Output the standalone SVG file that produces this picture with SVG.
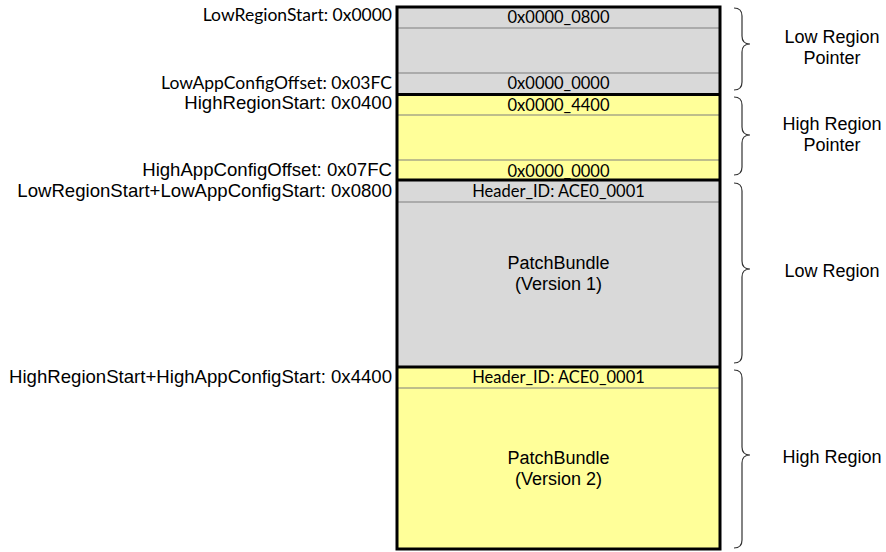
<svg xmlns="http://www.w3.org/2000/svg" width="886" height="552" viewBox="0 0 886 552">
<style>
.gray{fill:#d9d9d9}
.yel{fill:#ffff99}
.thin{stroke:#7f7f7f;stroke-width:1.2;fill:none}
.thick{stroke:#000;stroke-width:3;fill:none}
.cal{font-family:Lato,"Liberation Sans",sans-serif;font-size:16.5px;fill:#000}
.ar{font-family:"Liberation Sans",Arial,sans-serif;font-size:18px;fill:#000}
.lbl{font-size:17.5px}
.lbla{font-size:18.6px}
.mid{text-anchor:middle}
.end{text-anchor:end}
.brace{stroke:#333;stroke-width:1.2;fill:none}
</style>
<rect width="886" height="552" fill="#fff"/>

<g id="low-region-pointer">
<rect class="gray" x="397" y="7" width="323" height="87.5"/>
<line class="thin" x1="397" y1="28" x2="720" y2="28"/>
<line class="thin" x1="397" y1="73" x2="720" y2="73"/>
<text class="cal mid" x="558.5" y="23">0x0000_0800</text>
<text class="cal mid" x="558.5" y="89">0x0000_0000</text>
</g>

<g id="high-region-pointer">
<rect class="yel" x="397" y="94.5" width="323" height="85.5"/>
<line class="thin" x1="397" y1="115" x2="720" y2="115"/>
<line class="thin" x1="397" y1="160" x2="720" y2="160"/>
<text class="cal mid" x="558.5" y="111">0x0000_4400</text>
<text class="cal mid" x="558.5" y="177">0x0000_0000</text>
</g>

<g id="low-region">
<rect class="gray" x="397" y="180" width="323" height="187"/>
<line class="thin" x1="397" y1="202" x2="720" y2="202"/>
<text class="cal mid" x="558.5" y="197">Header_ID: ACE0_0001</text>
<text class="ar mid" x="558.5" y="269">PatchBundle</text>
<text class="ar mid" x="558.5" y="290">(Version 1)</text>
</g>

<g id="high-region">
<rect class="yel" x="397" y="367" width="323" height="182"/>
<line class="thin" x1="397" y1="388" x2="720" y2="388"/>
<text class="cal mid" x="558.5" y="383">Header_ID: ACE0_0001</text>
<text class="ar mid" x="558.5" y="464">PatchBundle</text>
<text class="ar mid" x="558.5" y="485">(Version 2)</text>
</g>

<g id="outlines">
<rect class="thick" x="397" y="7" width="323" height="542"/>
<line class="thick" x1="397" y1="94.5" x2="720" y2="94.5"/>
<line class="thick" x1="397" y1="180" x2="720" y2="180"/>
<line class="thick" x1="397" y1="367" x2="720" y2="367"/>
</g>

<g id="address-labels">
<text class="cal lbl end" x="392" y="21">LowRegionStart: 0x0000</text>
<text class="cal lbl end" x="392" y="89">LowAppConfigOffset: 0x03FC</text>
<text class="ar lbla end" x="392" y="109">HighRegionStart: 0x0400</text>
<text class="ar lbla end" x="392" y="176">HighAppConfigOffset: 0x07FC</text>
<text class="ar lbla end" x="392" y="197">LowRegionStart+LowAppConfigStart: 0x0800</text>
<text class="ar lbla end" x="392" y="383">HighRegionStart+HighAppConfigStart: 0x4400</text>
</g>

<g id="connectors">
<path class="brace" d="M734 8 Q742 8 742 16 L742 36 Q742 44 750 44 Q742 44 742 52 L742 82 Q742 90 734 90"/>
<path class="brace" d="M734 97 Q742 97 742 105 L742 127 Q742 135 750 135 Q742 135 742 143 L742 167 Q742 175 734 175"/>
<path class="brace" d="M734 183 Q742 183 742 191 L742 261 Q742 269 750 269 Q742 269 742 277 L742 355 Q742 363 734 363"/>
<path class="brace" d="M734 370 Q742 370 742 378 L742 447 Q742 455 750 455 Q742 455 742 463 L742 540 Q742 548 734 548"/>
</g>

<g id="region-labels">
<text class="ar mid" x="832" y="43">Low Region</text>
<text class="ar mid" x="832" y="64">Pointer</text>
<text class="ar mid" x="832" y="130">High Region</text>
<text class="ar mid" x="832" y="151">Pointer</text>
<text class="ar mid" x="832" y="277">Low Region</text>
<text class="ar mid" x="832" y="463">High Region</text>
</g>
</svg>
